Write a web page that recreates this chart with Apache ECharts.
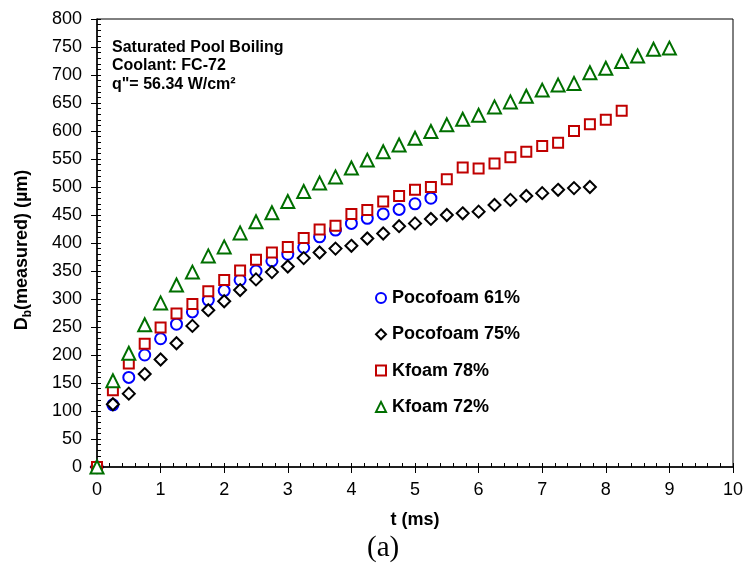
<!DOCTYPE html>
<html>
<head>
<meta charset="utf-8">
<script src="https://cdn.jsdelivr.net/npm/echarts@6/dist/echarts.min.js"></script>
<style>
  html, body { margin: 0; padding: 0; background: #fff; }
  #chart { width: 744px; height: 563px; }
</style>
</head>
<body>
<div id="chart"></div>
<script>
// time steps (ms)
const tPoco61 = [0, 0.25, 0.5, 0.75, 1, 1.25, 1.5, 1.75, 2, 2.25, 2.5, 2.75, 3, 3.25, 3.5, 3.75, 4, 4.25, 4.5, 4.75, 5, 5.25];
const dPoco61 = [0, 111, 160, 200, 229, 255, 277, 298, 315, 334, 350, 368, 380, 392, 411, 423, 435, 444, 452, 460, 470, 480];

const tPoco75 = [0, 0.25, 0.5, 0.75, 1, 1.25, 1.5, 1.75, 2, 2.25, 2.5, 2.75, 3, 3.25, 3.5, 3.75, 4, 4.25, 4.5, 4.75, 5, 5.25, 5.5, 5.75, 6, 6.25, 6.5, 6.75, 7, 7.25, 7.5, 7.75];
const dPoco75 = [0, 112, 131, 166, 192, 221, 252, 280, 296, 316, 335, 348, 358, 373, 383, 390, 395, 408, 417, 430, 435, 443, 450, 453, 456, 468, 477, 484, 489, 495, 498, 500];

const tK78 = [0, 0.25, 0.5, 0.75, 1, 1.25, 1.5, 1.75, 2, 2.25, 2.5, 2.75, 3, 3.25, 3.5, 3.75, 4, 4.25, 4.5, 4.75, 5, 5.25, 5.5, 5.75, 6, 6.25, 6.5, 6.75, 7, 7.25, 7.5, 7.75, 8, 8.25];
const dK78 = [0, 137, 185, 220, 249, 274, 291, 314, 334, 351, 370, 383, 393, 409, 424, 431, 452, 459, 474, 484, 495, 500, 514, 535, 533, 542, 553, 563, 573, 579, 600, 612, 620, 636];

const tK72 = [0, 0.25, 0.5, 0.75, 1, 1.25, 1.5, 1.75, 2, 2.25, 2.5, 2.75, 3, 3.25, 3.5, 3.75, 4, 4.25, 4.5, 4.75, 5, 5.25, 5.5, 5.75, 6, 6.25, 6.5, 6.75, 7, 7.25, 7.5, 7.75, 8, 8.25, 8.5, 8.75, 9];
const dK72 = [0, 154, 203, 254, 293, 325, 348, 377, 393, 418, 438, 454, 474, 492, 507, 518, 534, 548, 563, 575, 587, 599, 611, 621, 628, 643, 652, 662, 673, 682, 685, 704, 712, 724, 734, 746, 748];

const seriesNames = ["Pocofoam 61%", "Pocofoam 75%", "Kfoam 78%", "Kfoam 72%"];

const zip = (xs, ys) => xs.map((x, i) => [x, ys[i]]);

function markerSeries(name, data, symbol, size, color) {
  return {
    name: name,
    type: "scatter",
    data: data,
    symbol: symbol,
    symbolSize: size,
    clip: false,
    itemStyle: { color: "#fff", borderColor: color, borderWidth: 2, opacity: 1 }
  };
}

const chart = echarts.init(document.getElementById("chart"));

const axisFont = { color: "#000", fontSize: 18, fontFamily: "Liberation Sans, Arial" };

const option = {
  animation: false,
  textStyle: { fontFamily: "Liberation Sans, Arial" },
  grid: {
    left: 97, right: 11, top: 19, bottom: 96,
    outerBoundsMode: "none",
    show: true, borderColor: "#000", borderWidth: 1
  },
  title: {
    text: "(a)",
    left: 362,
    top: 529,
    textStyle: { fontFamily: "Liberation Serif, Times New Roman", fontSize: 29, fontWeight: "normal", color: "#000" }
  },
  graphic: [{
    type: "text",
    left: 112,
    top: 38,
    style: {
      text: "Saturated Pool Boiling\nCoolant: FC-72\nq\"= 56.34 W/cm²",
      font: "bold 16px Liberation Sans, Arial",
      lineHeight: 18.5,
      fill: "#000"
    }
  }],
  legend: {
    orient: "vertical",
    left: 370,
    top: 283,
    itemWidth: 10,
    itemHeight: 10,
    itemGap: 16.3,
    data: seriesNames,
    textStyle: { fontSize: 18, lineHeight: 20, fontWeight: "bold", color: "#000", padding: [0, 0, 0, 1] }
  },
  xAxis: [{
    type: "value",
    min: 0, max: 10, interval: 1,
    name: "t (ms)",
    nameLocation: "middle",
    nameGap: 44,
    nameTextStyle: { fontSize: 18, fontWeight: "bold", color: "#000" },
    axisLine: { lineStyle: { color: "#000", width: 1.5 } },
    axisTick: { inside: true, length: 4, lineStyle: { color: "#000" } },
    minorTick: { show: true, splitNumber: 5, length: 4, lineStyle: { color: "#000" } },
    splitLine: { show: false },
    axisLabel: Object.assign({ margin: 14 }, axisFont)
  }, {
    type: "value",
    position: "bottom",
    min: 0, max: 10, interval: 1,
    axisLine: { show: false },
    axisTick: { inside: false, length: 6, lineStyle: { color: "#000" } },
    splitLine: { show: false },
    axisLabel: { show: false }
  }],
  yAxis: [{
    type: "value",
    min: 0, max: 800, interval: 50,
    name: "{a|D}{s|b}{a|(measured) (µm)}",
    nameLocation: "middle",
    nameGap: 66,
    nameTextStyle: {
      padding: [0, 14, 0, 0],
      rich: {
        a: { fontSize: 18, fontWeight: "bold", color: "#000", lineHeight: 22, verticalAlign: "bottom" },
        s: { fontSize: 12, fontWeight: "bold", color: "#000", lineHeight: 22, verticalAlign: "bottom", padding: [0, 0, -3, 0] }
      }
    },
    axisLine: { lineStyle: { color: "#000", width: 1.5 } },
    axisTick: { inside: true, length: 4, lineStyle: { color: "#000" } },
    minorTick: { show: true, splitNumber: 5, length: 4, lineStyle: { color: "#000" } },
    splitLine: { show: false },
    axisLabel: Object.assign({ margin: 15 }, axisFont)
  }, {
    type: "value",
    position: "left",
    min: 0, max: 800, interval: 50,
    axisLine: { show: false },
    axisTick: { inside: false, length: 6, lineStyle: { color: "#000" } },
    splitLine: { show: false },
    axisLabel: { show: false }
  }],
  series: [
    markerSeries(seriesNames[0], zip(tPoco61, dPoco61), "circle", 11, "#0000ff"),
    markerSeries(seriesNames[1], zip(tPoco75, dPoco75), "diamond", 12, "#000000"),
    markerSeries(seriesNames[2], zip(tK78, dK78), "rect", 10, "#c00000"),
    markerSeries(seriesNames[3], zip(tK72, dK72), "triangle", 13, "#006f00")
  ]
};

chart.setOption(option);
</script>
</body>
</html>
